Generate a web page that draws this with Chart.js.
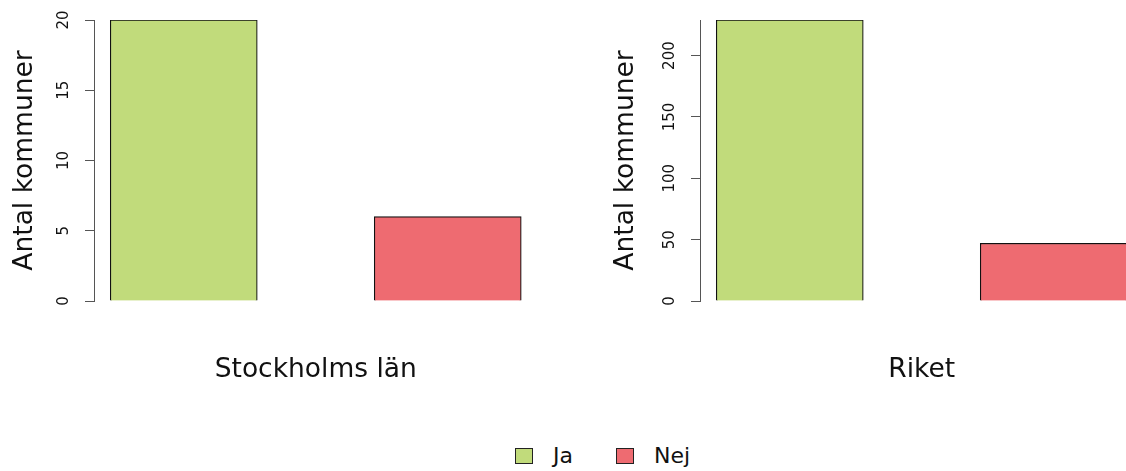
<!DOCTYPE html>
<html lang="sv">
<head>
  <meta charset="UTF-8" />
  <title>Antal kommuner</title>
  <script src="https://cdn.jsdelivr.net/npm/chart.js"></script>
  <style>
    body { margin: 0; width: 1126px; height: 471px; overflow: hidden; background: #fff; font-family: "DejaVu Sans", sans-serif; position: relative; }
    canvas { position: absolute; top: 0; }
    #left { left: 0; }
    #right { left: 563px; }
    #legend { position: absolute; top: 443px; left: 515px; display: flex; font-size: 22px; color: #111; }
    .item { display: flex; align-items: center; margin-right: 43px; }
    .box { width: 16px; height: 14px; border: 1px solid #222; margin-right: 20px; }
  </style>
</head>
<body>

<canvas id="left" width="563" height="420"></canvas>
<canvas id="right" width="600" height="420"></canvas>
<div id="legend"></div>

<script>
const categories = ["Ja", "Nej"];
const colors = ["#C1DB7B", "#EE6B71"];
const stockholmValues = [20, 6];
const riketValues = [229, 47];
const stockholmTicks = [0, 5, 10, 15, 20];
const riketTicks = [0, 50, 100, 150, 200];
const yTitle = "Antal kommuner";

// rotated tick labels, like R's default
const rotatedTicks = {
  id: "rotatedTicks",
  afterDraw(chart) {
    const y = chart.scales.y;
    const ctx = chart.ctx;
    ctx.save();
    ctx.font = "15px 'DejaVu Sans'";
    ctx.fillStyle = "#111";
    ctx.textAlign = "center";
    ctx.textBaseline = "middle";
    y.ticks.forEach(t => {
      ctx.save();
      ctx.translate(chart.chartArea.left - 29.5, y.getPixelForValue(t.value));
      ctx.rotate(-Math.PI / 2);
      ctx.fillText(String(t.value), 0, 0);
      ctx.restore();
    });
    ctx.restore();
  }
};

function makePanel(id, label, values, ticks, yWidth, titlePad, padRight) {
  const step = ticks[1] - ticks[0];
  return new Chart(document.getElementById(id), {
    type: "bar",
    data: {
      datasets: [{
        data: values.map((v, i) => ({ x: i, y: v })),
        backgroundColor: colors,
        borderColor: "#111",
        borderWidth: 1.2,
        barThickness: 147
      }]
    },
    options: {
      responsive: false,
      animation: false,
      layout: { padding: { top: 20, right: padRight, left: 0, bottom: 0 } },
      plugins: { legend: { display: false }, tooltip: { enabled: false } },
      scales: {
        x: {
          type: "linear",
          offset: false,
          min: -0.34, max: 1.34,
          grid: { display: false },
          border: { display: false },
          ticks: { display: false },
          title: { display: true, text: label, color: "#111", font: { family: "DejaVu Sans", size: 26.5 }, padding: { top: 0, bottom: 34 } },
          afterFit: s => { s.height = 119; }
        },
        y: {
          min: 0, max: Math.max(...values),
          ticks: { display: false, stepSize: step, includeBounds: false },
          grid: { drawOnChartArea: false, tickLength: 9, color: "#555" },
          border: { color: "#555", width: 1 },
          title: { display: true, text: yTitle, color: "#111", font: { family: "DejaVu Sans", size: 26.5 }, padding: { top: titlePad, bottom: 0 } },
          afterFit: s => { s.width = yWidth; }
        }
      }
    },
    plugins: [rotatedTicks]
  });
}

makePanel("left", "Stockholms län", stockholmValues, stockholmTicks, 94, 9, 25.5);
makePanel("right", "Riket", riketValues, riketTicks, 137, 47, 19.5);

const legend = document.getElementById("legend");
categories.forEach((c, i) => {
  legend.innerHTML += `<div class="item"><span class="box" style="background:${colors[i]}"></span><span>${c}</span></div>`;
});
</script>
</body>
</html>
